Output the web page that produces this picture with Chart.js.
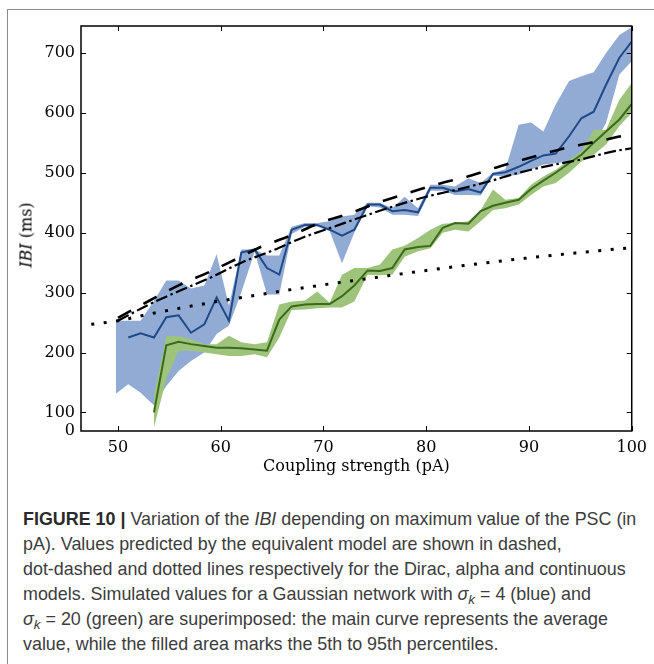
<!DOCTYPE html>
<html><head><meta charset="utf-8">
<script src="https://cdn.jsdelivr.net/npm/chart.js@4.4.1/dist/chart.umd.min.js"></script>
<style>
html,body{margin:0;padding:0;background:#fff;}
#wrap{position:relative;width:654px;height:664px;overflow:hidden;}
#frame{position:absolute;left:7px;top:9px;width:700px;height:700px;border-top:1.5px solid #8c8c8c;border-left:1.5px solid #8c8c8c;}
#cv{position:absolute;left:0;top:0;}
#ylab{position:absolute;left:26px;top:235px;transform:translate(-50%,-50%) rotate(-90deg);font:16px 'DejaVu Serif';white-space:nowrap;color:#000;}
#cap{position:absolute;left:23px;top:507px;font:17.9px/25px 'Liberation Sans',Arial,sans-serif;color:#3c3c3c;white-space:nowrap;}
#cap b{color:#2a2a2a;}
#cap sub{font-size:0.75em;line-height:0;vertical-align:-0.3em;}
</style></head>
<body>
<div id="wrap">
<div id="frame"></div>
<canvas id="cv" width="654" height="490"></canvas>
<div id="ylab"><i>IBI</i> (ms)</div>
<div id="cap"><b>FIGURE 10 |</b> Variation of the <i>IBI</i> depending on maximum value of the PSC (in<br>pA). Values predicted by the equivalent model are shown in dashed,<br>dot-dashed and dotted lines respectively for the Dirac, alpha and continuous<br>models. Simulated values for a Gaussian network with <i>σ<sub>k</sub></i> = 4 (blue) and<br><i>σ<sub>k</sub></i> = 20 (green) are superimposed: the main curve represents the average<br>value, while the filled area marks the 5th to 95th percentiles.</div>
</div>
<script>
// Coupling strength grid (pA)
const xGrid = [49.8,51.0,52.2,53.5,54.7,55.9,57.1,58.4,59.6,60.8,62.0,63.3,64.5,65.7,66.9,68.2,69.4,70.6,71.8,73.0,74.3,75.5,76.7,77.9,79.2,80.4,81.6,82.8,84.1,85.3,86.5,87.7,89.0,90.2,91.4,92.6,93.9,95.1,96.3,97.5,98.8,100.0];
// sigma_k = 4 (blue)
const blueMean = [null,225,232,225,259,262,233,247,292,253,367,372,341,330,405,413,413,405,395,405,447,447,436,438,434,475,475,469,473,467,498,501,510,520,529,532,561,591,602,647,692,719];
const blueLow  = [131,147,133,112,144,169,186,200,231,245,300,368,297,297,398,410,410,403,349,400,444,442,430,430,428,470,470,463,463,462,495,494,497,505,514,516,519,525,547,583,664,686];
const blueHigh = [253,253,253,286,320,320,307,312,364,278,372,372,362,362,410,416,416,419,427,430,450,450,441,460,441,480,480,477,491,483,500,506,580,584,569,614,653,661,668,700,730,743];
// sigma_k = 20 (green)
const greenMean = [null,null,null,100,212,218,214,211,208,208,207,205,203,255,277,280,281,281,294,312,337,336,341,372,376,378,408,416,415,436,445,450,455,473,487,500,516,530,550,569,589,615];
const greenLow  = [null,null,null,75,156,203,203,200,197,194,194,197,192,225,271,272,274,275,275,285,330,329,330,360,369,374,400,405,402,419,438,441,447,463,477,483,500,519,530,547,578,600];
const greenHigh = [null,null,null,128,227,227,222,214,214,228,217,214,217,280,285,287,302,283,330,341,341,347,372,378,391,405,415,416,419,438,472,455,458,480,494,505,521,536,572,572,622,650];
// equivalent model predictions
const diracX = [50,53,56,58.7,61.5,64,66.8,69.7,72.5,75.3,78.2,81.1,84.3,87.2,90.1,93,96,100];
const diracY = [258,286,313,333,356,377,395,417,432,450,466,481,495,511,525,539,550,565];
const alphaX = [50,53,56,59,62,65,68,71,74,77,80,83,86,89,92,95,98,100];
const alphaY = [253,280,303,325,350,370,392,410,428,445,460,472,485,500,512,522,535,541];
const contX = [47.4,50,53,56,60,65,70,75,80,85,90,95,100];
const contY = [247,253,264,274,286,300,313,325,337,348,358,367,375];
// axes
const xTicks = [50,60,70,80,90,100];
const yTicks = [69,100,200,300,400,500,600,700];
const yTickLabels = ['0','100','200','300','400','500','600','700'];

function pts(xs, ys){ const o=[]; xs.forEach((x,i)=>{ if(ys[i]!=null) o.push({x:x,y:ys[i]}); }); return o; }

const BLUE_FILL='#92abd4', BLUE_LINE='#1f4a8a', GREEN_FILL='#9ec37b', GREEN_LINE='#3c6a1c';
const serif = {family:'DejaVu Serif', size:16};

const framePlugin = {
  id:'frame',
  afterDraw(chart){
    const {ctx, chartArea:a, scales:{x,y}} = chart;
    ctx.save();
    ctx.strokeStyle='#000'; ctx.lineWidth=1;
    ctx.beginPath();
    xTicks.forEach(v=>{ const p=Math.round(x.getPixelForValue(v))+0.5;
      ctx.moveTo(p,a.bottom); ctx.lineTo(p,a.bottom-5); ctx.moveTo(p,a.top); ctx.lineTo(p,a.top+5); });
    yTicks.slice(1).forEach(v=>{ const p=Math.round(y.getPixelForValue(v))+0.5;
      ctx.moveTo(a.left,p); ctx.lineTo(a.left+5,p); ctx.moveTo(a.right,p); ctx.lineTo(a.right-5,p); });
    ctx.stroke();
    ctx.lineWidth=1.5;
    ctx.strokeRect(a.left,a.top,a.right-a.left,a.bottom-a.top);
    ctx.restore();
  }
};

new Chart(document.getElementById('cv'), {
  type:'line',
  data:{ datasets:[
    {data:pts(xGrid,blueLow), borderWidth:0, fill:false, order:8},
    {data:pts(xGrid,blueHigh), borderWidth:0, fill:'-1', backgroundColor:BLUE_FILL, order:7},
    {data:pts(xGrid,greenLow), borderWidth:0, fill:false, order:6},
    {data:pts(xGrid,greenHigh), borderWidth:0, fill:'-1', backgroundColor:GREEN_FILL, order:5},
    {data:pts(xGrid,blueMean), borderColor:BLUE_LINE, borderWidth:2, fill:false, order:4},
    {data:pts(xGrid,greenMean), borderColor:GREEN_LINE, borderWidth:2, fill:false, order:3},
    {data:pts(diracX,diracY), borderColor:'#000', borderWidth:2.6, borderDash:[15,14], borderCapStyle:'butt', cubicInterpolationMode:'monotone', fill:false, order:2},
    {data:pts(alphaX,alphaY), borderColor:'#000', borderWidth:2.2, borderDash:[12,3.5,2.5,3.5], borderCapStyle:'butt', cubicInterpolationMode:'monotone', fill:false, order:1},
    {data:pts(contX,contY), borderColor:'#000', borderWidth:3, borderDash:[3,9.5], borderCapStyle:'butt', cubicInterpolationMode:'monotone', fill:false, order:0}
  ]},
  options:{
    responsive:false, animation:false, devicePixelRatio:1,
    layout:{padding:{left:0,top:26,right:19,bottom:0}},
    plugins:{legend:{display:false}, tooltip:{enabled:false}},
    elements:{point:{radius:0,hoverRadius:0}, line:{tension:0}},
    scales:{
      x:{type:'linear', min:46.4, max:100,
        afterBuildTicks:s=>{ s.ticks = xTicks.map(v=>({value:v})); },
        afterFit:s=>{ s.height = 59; },
        grid:{display:false, drawTicks:false}, border:{display:false},
        ticks:{font:serif, color:'#000', padding:7, maxRotation:0, autoSkip:false},
        title:{display:true, text:'Coupling strength (pA)', font:serif, color:'#000', padding:{top:0,bottom:14}}
      },
      y:{type:'linear', min:69, max:745,
        afterBuildTicks:s=>{ s.ticks = yTicks.map(v=>({value:v})); },
        afterFit:s=>{ s.width = 81; },
        grid:{display:false, drawTicks:false}, border:{display:false},
        ticks:{font:serif, color:'#000', padding:6, autoSkip:false,
          callback:(v)=>{ const i=yTicks.indexOf(v); return i>=0?yTickLabels[i]:''; }}
      }
    }
  },
  plugins:[framePlugin]
});
</script>
</body></html>
